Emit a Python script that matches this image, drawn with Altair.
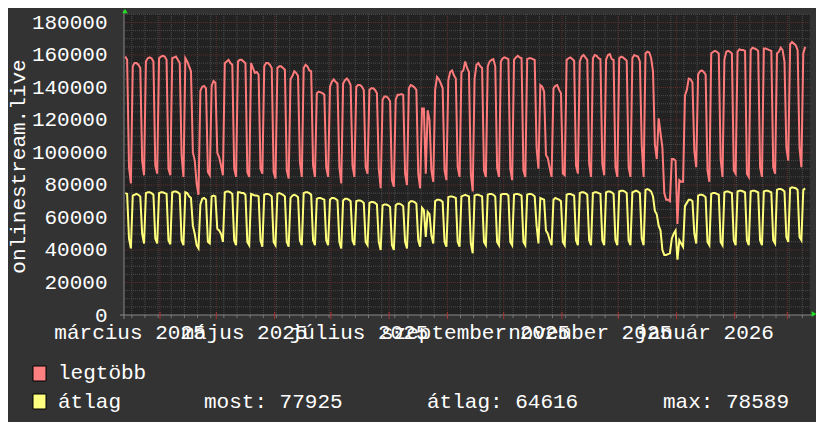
import altair as alt
import pandas as pd

SERIES = ["legtöbb", "átlag"]
COLORS = ["#ff7b7b", "#ffff7b"]
SWATCH = ["#ff8080", "#ffff80"]

# daily values, one row per week (Mon..Sun); first row starts Thu 2025-03-13, last row ends Tue 2026-03-10
legtobb_weeks = [
    [159000, 157000, 91000, 81000],
    [153000, 155000, 155000, 154000, 152000, 95000, 86000],
    [156000, 158000, 158500, 158000, 156000, 92000, 87000],
    [158000, 159000, 159500, 159000, 157000, 90000, 86000],
    [158000, 158500, 159000, 157000, 155000, 98000, 85000],
    [158000, 156000, 153000, 150000, 100000, 95000, 81000],
    [74000, 138000, 140500, 141000, 139500, 88000, 86000],
    [141000, 144000, 143000, 100000, 97000, 92000, 86000],
    [155000, 156000, 157000, 155000, 154000, 90000, 85000],
    [156000, 157000, 157000, 156000, 155000, 88000, 85000],
    [155000, 152000, 149000, 149500, 148000, 90000, 87000],
    [153000, 155000, 155000, 154000, 152000, 88000, 84000],
    [152000, 153000, 153000, 152000, 151000, 89000, 84000],
    [145000, 147000, 150000, 149000, 147000, 94000, 85000],
    [152000, 154000, 153000, 150500, 150000, 92000, 85000],
    [136500, 137500, 137000, 136500, 135500, 91000, 85000],
    [140500, 143500, 145000, 143500, 142500, 91000, 81000],
    [142500, 144500, 145500, 144000, 141500, 92000, 85000],
    [140500, 141500, 141500, 140500, 138500, 91000, 87000],
    [138500, 139500, 139500, 138500, 136500, 90000, 78000],
    [132500, 134500, 134500, 133500, 131500, 83000, 79000],
    [132500, 135500, 135500, 136000, 135500, 87000, 80000],
    [139500, 141500, 141000, 140000, 138500, 87000, 78000],
    [127000, 127000, 87000, 126000, 120000, 89000, 82000],
    [138500, 146500, 145000, 142500, 139500, 89000, 83000],
    [144500, 149500, 150500, 147500, 145500, 91000, 85000],
    [149500, 150500, 156000, 152000, 149500, 87000, 76000],
    [145500, 154000, 155000, 153000, 152000, 89000, 85000],
    [153000, 156000, 157000, 157500, 153000, 90500, 85000],
    [156000, 158000, 158500, 158000, 157500, 90000, 83000],
    [157000, 158500, 159500, 158500, 158000, 89000, 85000],
    [157500, 158000, 158000, 157500, 157000, 103000, 90000],
    [141500, 140500, 137500, 98500, 96500, 90500, 85000],
    [139500, 141000, 141500, 138500, 136500, 87000, 86000],
    [157000, 158000, 158500, 157500, 156500, 92000, 87000],
    [156000, 159000, 160000, 158500, 157000, 93000, 85000],
    [158000, 160000, 159500, 158000, 157500, 93000, 86000],
    [157000, 160000, 160500, 157500, 157000, 91000, 85000],
    [158000, 159000, 158500, 157500, 156500, 91000, 85000],
    [158000, 160000, 159500, 159000, 156000, 104000, 85000],
    [161000, 162000, 161500, 158000, 150000, 105000, 96000],
    [121000, 112000, 103000, 75000, 71000, 71000, 70000],
    [96000, 96000, 95000, 56000, 83000, 82000, 82000],
    [135000, 138500, 145500, 145000, 143000, 101000, 91000],
    [148000, 150000, 150500, 149500, 148000, 89000, 82000],
    [161000, 162000, 162500, 162000, 161000, 96000, 85000],
    [157000, 162000, 162500, 162000, 161000, 89000, 87000],
    [162000, 163500, 163000, 163000, 162500, 87000, 85000],
    [163000, 164500, 164000, 163500, 162500, 91000, 85000],
    [164000, 164000, 163500, 163000, 162500, 91000, 87000],
    [161000, 162000, 164500, 163000, 156000, 103000, 95000],
    [166500, 168000, 167000, 166000, 163000, 103000, 91000],
    [161000, 165000],
]

atlag_weeks = [
    [75000, 74500, 47000, 41000],
    [73500, 74000, 74500, 74000, 73000, 50000, 44000],
    [75000, 75500, 75500, 75000, 74000, 47000, 44000],
    [75000, 75500, 75500, 75000, 74500, 46000, 43500],
    [75500, 76000, 76000, 75500, 74500, 46000, 43000],
    [75500, 75000, 73000, 72000, 55000, 50000, 43000],
    [41000, 68000, 71500, 72000, 71000, 45000, 44000],
    [73000, 73500, 73000, 53000, 52000, 50000, 45000],
    [75500, 76000, 76000, 75500, 74500, 46000, 43000],
    [75500, 75500, 75000, 75000, 74000, 45000, 43000],
    [74500, 74000, 73500, 73500, 73000, 46000, 42000],
    [74000, 74500, 74500, 74000, 73000, 45000, 43000],
    [74500, 75000, 74500, 74000, 73000, 45000, 42000],
    [72000, 73500, 74000, 73500, 72500, 46000, 43000],
    [75000, 75500, 75500, 75000, 74000, 46000, 43000],
    [71500, 72000, 72000, 71500, 71000, 46000, 43000],
    [71000, 72000, 72000, 71500, 70500, 45000, 41000],
    [70500, 71500, 71500, 71000, 70000, 46000, 43000],
    [70000, 70500, 70500, 70000, 69000, 45000, 43000],
    [69000, 69500, 69500, 69000, 68000, 45000, 40000],
    [67500, 68000, 68000, 67500, 66500, 43000, 40000],
    [67500, 68500, 68500, 68000, 67000, 45000, 41000],
    [69000, 70000, 70000, 69500, 68500, 46000, 42000],
    [66000, 64500, 48000, 63500, 62000, 49000, 44000],
    [70000, 71000, 71000, 70500, 69500, 45000, 42000],
    [72500, 73000, 73000, 72500, 72000, 45000, 42000],
    [73000, 73500, 74000, 73500, 73000, 44000, 38000],
    [73500, 74000, 74000, 73500, 73000, 45000, 43000],
    [74000, 74500, 74500, 74000, 73000, 45000, 43000],
    [74000, 74500, 74500, 74500, 73500, 45000, 43000],
    [74000, 74500, 74500, 74000, 73500, 45000, 43000],
    [74000, 74500, 74500, 74000, 73000, 55000, 44000],
    [72000, 71500, 71000, 52000, 50000, 46000, 43000],
    [71000, 72000, 71500, 71000, 70000, 45000, 43000],
    [74000, 74500, 74500, 74000, 73500, 46000, 43000],
    [75000, 75500, 75500, 75000, 74000, 46000, 43000],
    [75000, 75500, 75500, 75000, 74500, 46000, 43000],
    [75500, 76000, 76000, 75500, 74500, 46000, 43000],
    [76000, 76500, 76500, 76000, 75000, 46000, 43000],
    [75500, 76000, 76500, 76000, 75000, 47000, 43000],
    [77000, 77500, 77000, 76000, 73000, 64000, 62000],
    [55000, 52000, 40000, 37000, 37000, 37500, 38000],
    [47000, 50000, 52000, 34000, 46000, 44000, 42000],
    [67000, 69000, 71000, 71000, 70000, 50000, 44000],
    [73500, 74000, 74000, 73500, 72500, 45000, 43000],
    [74500, 75000, 75000, 74500, 74000, 45000, 43000],
    [75500, 76000, 76000, 75500, 75000, 46000, 43000],
    [76000, 76500, 76500, 76000, 75500, 46000, 43000],
    [76000, 76500, 76500, 76000, 75500, 46000, 43000],
    [76000, 76500, 76500, 76000, 75500, 46000, 44000],
    [77000, 77500, 77500, 77000, 76000, 48000, 45000],
    [78000, 78589, 78300, 78000, 77000, 48000, 46000],
    [77000, 77925],
]

Y_TICKS = [0, 20000, 40000, 60000, 80000, 100000, 120000, 140000, 160000, 180000]
MONTH_STARTS = ["2025-04-01", "2025-05-01", "2025-06-01", "2025-07-01", "2025-08-01",
                "2025-09-01", "2025-10-01", "2025-11-01", "2025-12-01", "2026-01-01",
                "2026-02-01", "2026-03-01"]
MONTH_LABELS = ["március 2025", "május 2025", "július 2025", "szeptember 2025",
                "november 2025", "január 2026"]
LABEL_DATES = ["2025-03-16", "2025-05-16", "2025-07-16", "2025-09-16", "2025-11-16", "2026-01-16"]
LEGEND_STATS = ["most: 77925", "átlag: 64616", "max: 78589"]

FONT = "Liberation Mono"
FS = 21

def flat(weeks):
    return [v for w in weeks for v in w]

red = flat(legtobb_weeks)
yel = flat(atlag_weeks)
days = pd.date_range("2025-03-13 12:00", periods=len(red), freq="D").strftime("%Y-%m-%dT%H:%M:%SZ")
df = pd.DataFrame({
    "t": list(days) * 2,
    "v": red + yel,
    "s": [SERIES[0]] * len(red) + [SERIES[1]] * len(yel),
})

xscale = alt.Scale(type="utc",
                   domain=[alt.DateTime(year=2025, month=3, date=12, hours=20, utc=True),
                           alt.DateTime(year=2026, month=3, date=13, hours=2, utc=True)])
yscale = alt.Scale(domain=[0, 185230], nice=False)

yaxis = alt.Axis(values=Y_TICKS, format="d", domain=False, ticks=False, grid=False,
                 labelFont=FONT, labelFontSize=FS, labelColor="#ffffff",
                 labelPadding=17, labelBaseline="middle",
                 title="onlinestream.live", titleFont=FONT, titleFontSize=FS,
                 titleFontWeight="normal", titleColor="#ffffff",
                 titleAngle=270, titleX=-100, titleY=152, titleAlign="center",
                 titleBaseline="alphabetic")

minor_y = pd.DataFrame({"v": [v for v in range(5000, 185001, 5000) if v % 20000 != 0]})
major_y = pd.DataFrame({"v": Y_TICKS[1:]})
mondays = pd.date_range("2025-03-17", "2026-03-12", freq="7D").strftime("%Y-%m-%dT00:00:00Z")
minor_x = pd.DataFrame({"t": list(mondays)})
major_x = pd.DataFrame({"t": [d + "T00:00:00Z" for d in MONTH_STARTS]})
labels_df = pd.DataFrame({"t": [d + "T00:00:00Z" for d in LABEL_DATES], "lab": MONTH_LABELS})
one = pd.DataFrame({"k": [0]})

GRID = "#4c4c4c"
MGRID = "#5e2e2e"

g_minor_y = alt.Chart(minor_y).mark_rule(color=GRID, strokeDash=[1, 1], strokeWidth=1).encode(
    y=alt.Y("v:Q", scale=yscale, axis=yaxis))
g_minor_x = alt.Chart(minor_x).mark_rule(color=GRID, strokeDash=[1, 1], strokeWidth=1).encode(
    x=alt.X("t:T", scale=xscale, axis=None))
g_major_y = alt.Chart(major_y).mark_rule(color=MGRID, strokeDash=[1, 1], strokeWidth=1).encode(
    y=alt.Y("v:Q", scale=yscale, axis=yaxis))
g_major_x = alt.Chart(major_x).mark_rule(color=MGRID, strokeDash=[1, 1], strokeWidth=1).encode(
    x=alt.X("t:T", scale=xscale, axis=None))

tick_minor = alt.Chart(minor_x).mark_rule(color="#777777", strokeWidth=1).encode(
    x=alt.X("t:T", scale=xscale, axis=None), y=alt.value(301), y2=alt.value(304))
tick_major = alt.Chart(major_x).mark_rule(color="#aa3333", strokeWidth=1).encode(
    x=alt.X("t:T", scale=xscale, axis=None), y=alt.value(298), y2=alt.value(305))

lines = alt.Chart(df).mark_line(strokeWidth=2, clip=True).encode(
    x=alt.X("t:T", scale=xscale, axis=None),
    y=alt.Y("v:Q", scale=yscale, axis=yaxis),
    color=alt.Color("s:N", scale=alt.Scale(domain=SERIES, range=COLORS), legend=None),
    detail="s:N",
)

xaxis_line = alt.Chart(one).mark_rule(color="#888888", strokeWidth=1).encode(
    x=alt.value(-4), x2=alt.value(690), y=alt.value(301))
yaxis_line = alt.Chart(one).mark_rule(color="#888888", strokeWidth=1).encode(
    x=alt.value(0), y=alt.value(305), y2=alt.value(-4))

xlabels = alt.Chart(labels_df).mark_text(font=FONT, fontSize=FS, color="#ffffff",
                                         align="center", baseline="alphabetic").encode(
    x=alt.X("t:T", scale=xscale, axis=None), y=alt.value(325), text="lab:N")

arrow_up = alt.Chart(one).mark_point(shape="triangle-up", filled=True, color="#22dd22",
                                     size=30, opacity=1).encode(
    x=alt.value(1), y=alt.value(-3))
arrow_right = alt.Chart(one).mark_point(shape="triangle-right", filled=True,
                                        color="#22dd22", size=30, opacity=1).encode(
    x=alt.value(690), y=alt.value(300))

legend_layers = []
for i, name in enumerate(SERIES):
    ytop = 352 + 28 * i
    legend_layers.append(
        alt.Chart(one).mark_rect(color=SWATCH[i], stroke="#000000", strokeWidth=1).encode(
            x=alt.value(-91), x2=alt.value(-78), y=alt.value(ytop), y2=alt.value(ytop + 15)))
    legend_layers.append(
        alt.Chart(one).mark_text(text=name, font=FONT, fontSize=FS, color="#ffffff",
                                 align="left", baseline="alphabetic").encode(
            x=alt.value(-66), y=alt.value(365 + 29 * i)))
for txt, xpos in zip(LEGEND_STATS, [80, 303, 539]):
    legend_layers.append(
        alt.Chart(one).mark_text(text=txt, font=FONT, fontSize=FS, color="#ffffff",
                                 align="left", baseline="alphabetic").encode(
            x=alt.value(xpos), y=alt.value(394)))

chart = alt.layer(
    g_minor_y, g_minor_x, g_major_y, g_major_x, lines,
    xaxis_line, yaxis_line, tick_minor, tick_major, xlabels, arrow_up, arrow_right,
    *legend_layers,
).resolve_scale(x="shared", y="shared").properties(
    width=686, height=301,
    padding={"left": 116, "top": 6, "right": 6, "bottom": 107},
    autosize=alt.AutoSizeParams(type="none"),
    background="#333333",
).configure_view(fill="#222222", stroke=None)

chart.save("out.html", embed_options={"renderer": "svg", "actions": False})
